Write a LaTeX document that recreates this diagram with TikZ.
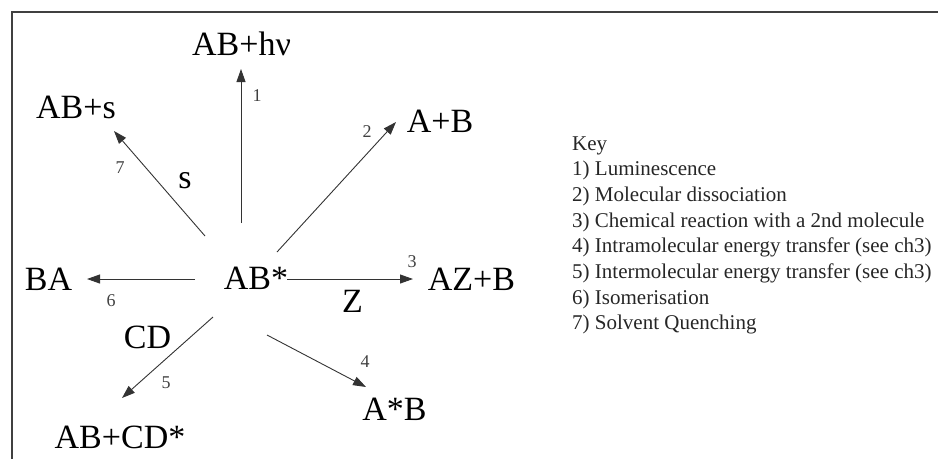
\documentclass[tikz,border=0pt]{standalone}
\usepackage{fontspec}
\setmainfont{Liberation Serif}
\usetikzlibrary{arrows.meta}

\begin{document}
\begin{tikzpicture}[x=1pt, y=-1pt]
		% estilos
		\tikzset{
			species/.style={
					inner sep=0pt, anchor=base,
					font=\fontsize{34}{40}\selectfont
				},
			rxn/.style={
					draw=black!80, line width=0.9pt, -{Triangle[length=13pt, width=9pt]}
				},
			rxn num/.style={
					inner sep=0pt, text=black!75,
					font=\fontsize{18}{21}\selectfont
				},
			key text/.style={
					inner sep=0pt, anchor=base west, text=black!85,
					font=\fontsize{21}{25}\selectfont
				}
		}
		\useasboundingbox (0,0) rectangle (938,459);

		% marco
		\draw[black!75, line width=1.2pt] (938,12) -- (12,12) -- (12,459);

		% especies
		\node[species] (ab) at (256,289) {AB*};
		\node[species] (abhv) at (241.5,55) {AB+hν};
		\node[species] (abs) at (76,118) {AB+s};
		\node[species] (apb) at (440,132) {A+B};
		\node[species] (ba) at (48.5,290) {BA};
		\node[species] (azb) at (471.5,290) {AZ+B};
		\node[species] (asb) at (394.5,420) {A*B};
		\node[species] (abcd) at (120,448) {AB+CD*};
		\node[species] (cd) at (147.5,348) {CD};
		\node[species] (solv) at (185,188) {s};
		\node[species] (zz) at (352.5,312) {Z};

		% extremos de las flechas
		\coordinate (t1) at (241,223);  \coordinate (h1) at (241,69);
		\coordinate (t2) at (277,252);  \coordinate (h2) at (396,122);
		\coordinate (t3) at (287,279);  \coordinate (h3) at (413,279);
		\coordinate (t4) at (267,335);  \coordinate (h4) at (366,387);
		\coordinate (t5) at (213,317);  \coordinate (h5) at (122,398);
		\coordinate (t6) at (195,279);  \coordinate (h6) at (87,279);
		\coordinate (t7) at (205,236);  \coordinate (h7) at (114,131);

		\foreach \n in {1,...,7} {
				\draw[rxn] (t\n) -- (h\n);
			}

		% numeros de reaccion
		\foreach \n/\x/\y in {1/257/96, 2/367/132, 3/412/262, 4/365/362, 5/166/383, 6/111/301, 7/120/168} {
				\node[rxn num] (n\n) at (\x,\y) {\n};
			}

		% leyenda
		\node[key text] (key) at (572,150) {Key};
		\foreach \i/\txt in {1/Luminescence, 2/Molecular dissociation, 3/Chemical reaction with a 2nd molecule, 4/Intramolecular energy transfer (see ch3), 5/Intermolecular energy transfer (see ch3), 6/Isomerisation, 7/Solvent Quenching} {
				\node[key text] (key\i) at (572,150+25.7*\i) {\i) \txt};
			}
	\end{tikzpicture}
\end{document}
